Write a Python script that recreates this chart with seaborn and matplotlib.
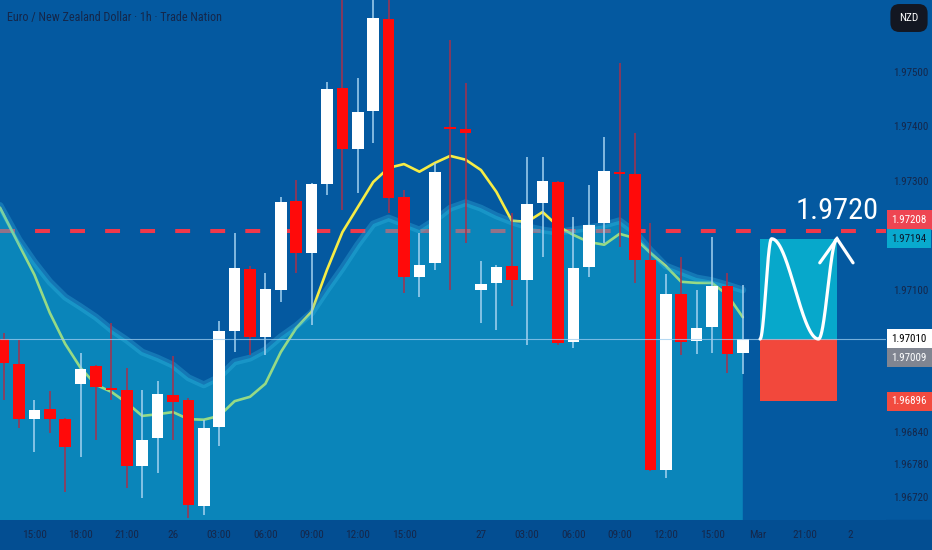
import numpy as np
import pandas as pd
import matplotlib
matplotlib.use("Agg")
import matplotlib.pyplot as plt
from matplotlib import font_manager
import seaborn as sns

# EUR/NZD 1h candles
opens = [1.97010, 1.96964, 1.96863, 1.96882, 1.96863, 1.96928, 1.96961, 1.96920, 1.96917, 1.96777,
         1.96828, 1.96907, 1.96898, 1.96704, 1.96849, 1.97025, 1.97139, 1.97014, 1.97100, 1.97263,
         1.97168, 1.97295, 1.97471, 1.97359, 1.97428, 1.97597, 1.97271, 1.97124, 1.97150, 1.97399,
         1.97395, 1.97100, 1.97113, 1.97144, 1.97118, 1.97260, 1.97298, 1.97005, 1.97142, 1.97223,
         1.97317, 1.97313, 1.97155, 1.96770, 1.97093, 1.97006, 1.97032, 1.97107, 1.96984]
highs = [1.97021, 1.97008, 1.96898, 1.96915, 1.96865, 1.96984, 1.96962, 1.97039, 1.96957, 1.96917,
         1.96933, 1.96979, 1.96902, 1.96862, 1.97043, 1.97205, 1.97144, 1.97131, 1.97271, 1.97302,
         1.97296, 1.97482, 1.97641, 1.97489, 1.97641, 1.97641, 1.97284, 1.97205, 1.97333, 1.97559,
         1.97480, 1.97153, 1.97146, 1.97241, 1.97344, 1.97344, 1.97300, 1.97234, 1.97293, 1.97381,
         1.97517, 1.97388, 1.97223, 1.97129, 1.97161, 1.97100, 1.97197, 1.97131, 1.97109]
lows = [1.96898, 1.96847, 1.96803, 1.96838, 1.96729, 1.96794, 1.96825, 1.96898, 1.96737, 1.96718,
        1.96764, 1.96825, 1.96682, 1.96687, 1.96814, 1.96986, 1.96981, 1.96981, 1.97078, 1.97131,
        1.97036, 1.97274, 1.97247, 1.97278, 1.97370, 1.97241, 1.97094, 1.97087, 1.97137, 1.97100,
        1.97186, 1.97039, 1.97027, 1.97071, 1.96999, 1.97161, 1.96999, 1.96994, 1.97124, 1.97186,
        1.97179, 1.97113, 1.96768, 1.96755, 1.96981, 1.96983, 1.96984, 1.96948, 1.96946]
closes = [1.96966, 1.96863, 1.96880, 1.96863, 1.96812, 1.96955, 1.96922, 1.96917, 1.96777, 1.96825,
          1.96909, 1.96894, 1.96705, 1.96847, 1.97025, 1.97140, 1.97014, 1.97102, 1.97261, 1.97168,
          1.97295, 1.97469, 1.97359, 1.97427, 1.97599, 1.97269, 1.97124, 1.97146, 1.97317, 1.97395,
          1.97388, 1.97111, 1.97142, 1.97118, 1.97258, 1.97300, 1.97003, 1.97140, 1.97219, 1.97318,
          1.97313, 1.97155, 1.96770, 1.97093, 1.97005, 1.97030, 1.97107, 1.96983, 1.97010]

# moving average line and the shaded band under it
ema = [1.97238, 1.97183, 1.97128, 1.97058, 1.97001, 1.96957, 1.96926, 1.96913, 1.96893, 1.96869,
       1.96872, 1.96876, 1.96863, 1.96862, 1.96869, 1.96896, 1.96904, 1.96928, 1.96986, 1.97030,
       1.97060, 1.97137, 1.97206, 1.97252, 1.97298, 1.97324, 1.97331, 1.97317, 1.97333, 1.97346,
       1.97339, 1.97320, 1.97280, 1.97227, 1.97225, 1.97243, 1.97217, 1.97201, 1.97188, 1.97183,
       1.97203, 1.97195, 1.97168, 1.97144, 1.97115, 1.97113, 1.97113, 1.97091, 1.97050]
cloud = [1.97243, 1.97192, 1.97151, 1.97115, 1.97087, 1.97069, 1.97050, 1.97027, 1.97008, 1.96986,
         1.96975, 1.96962, 1.96939, 1.96926, 1.96940, 1.96968, 1.96975, 1.96990, 1.97014, 1.97034,
         1.97058, 1.97100, 1.97140, 1.97183, 1.97221, 1.97232, 1.97221, 1.97210, 1.97228, 1.97250,
         1.97260, 1.97250, 1.97236, 1.97225, 1.97216, 1.97210, 1.97206, 1.97210, 1.97214, 1.97219,
         1.97227, 1.97206, 1.97173, 1.97144, 1.97133, 1.97122, 1.97117, 1.97109, 1.97100]

xtick_pos = [2, 5, 8, 11, 14, 17, 20, 23, 26, 31, 34, 37, 40, 43, 46, 49, 52, 55]
xtick_labels = ["15:00", "18:00", "21:00", "26", "03:00", "06:00", "09:00", "12:00", "15:00",
                "27", "03:00", "06:00", "09:00", "12:00", "15:00", "Mar", "21:00", "2"]
ytick_vals = [1.97500, 1.97400, 1.97300, 1.97100, 1.96840, 1.96780, 1.96720]

level = 1.97208
target, entry, stop = 1.97194, 1.97010, 1.96896
target_text = "1.9720"
badge_texts = ["1.97208", "1.97194", "1.97010", "1.97009", "1.96896"]
badge_prices = [1.97208, 1.97194, 1.97010, 1.97009, 1.96896]

BG = "#0459A0"
STRIP = "#034E92"
TXT = "#15274a"

sns.set_theme(style="dark")

# the screenshot text is narrow; take the narrowest family we have and scale sizes
installed = {f.name for f in font_manager.fontManager.ttflist}
font_scale = {"Liberation Sans Narrow": 1.0, "Roboto Condensed": 0.95, "Open Sans Condensed": 0.95,
              "Liberation Sans": 0.84, "DejaVu Sans": 0.76}
family = next(f for f in font_scale if f in installed or f == "DejaVu Sans")
k = font_scale[family]
plt.rcParams["font.family"] = [family, "DejaVu Sans"]

fig = plt.figure(figsize=(9.32, 5.5), dpi=100, facecolor=BG)
fig.patches.append(plt.Rectangle((0, 0), 1, 30 / 550, transform=fig.transFigure,
                                 color=STRIP, zorder=-5))
ax = fig.add_axes([0, 30 / 550, 886 / 932, 520 / 550])
ax.set_facecolor(BG)

df = pd.DataFrame({"o": opens, "h": highs, "l": lows, "c": closes})
df["i"] = np.arange(len(df))
up = df.c >= df.o
x_left, x_right = -0.234, 57.3

# red dashed level, behind everything
ax.axhline(level, color="#F0384A", lw=2.9, ls=(0, (3.7, 5.0)), zorder=1)

# moving average (extended to the left edge)
ex = np.r_[x_left, df.i]
ey = np.r_[ema[0] + (ema[0] - ema[1]) * abs(x_left), ema]
sns.lineplot(x=ex, y=ey, ax=ax, color="#F6EC45", lw=1.9, zorder=2, sort=False)

# translucent band drawn over the line (turns it green)
cy = np.r_[cloud[0] + (cloud[0] - cloud[1]) * abs(x_left), cloud]
ax.fill_between(ex, cy, 1.960, color="#13C3E0", alpha=0.42, lw=0, zorder=3)
ax.plot(ex, cy, color="#3BBDE6", lw=5, alpha=0.3, zorder=3.2)

# candles
ax.vlines(df.i, df.l, df.h, colors=np.where(up, "#a4d2f0", "#a8304a"), lw=1.1, zorder=4)
ax.bar(df.i, np.maximum((df.c - df.o).abs(), 0.00003), bottom=np.minimum(df.o, df.c),
       width=0.75, color=np.where(up, "white", "#FF0A0A"), lw=0, zorder=5)

# last price line
ax.axhline(entry, color="#9ccdf0", lw=0.8, alpha=0.75, zorder=6)

# long position drawing
bx0, bx1 = 49.12, 54.12
ax.fill_between([bx0, bx1], entry, target, color="#07A8CB", lw=0, zorder=5)
ax.fill_between([bx0, bx1], stop, entry, color="#F2483C", lw=0, zorder=5)
t = np.linspace(0, 1, 300)
sx = bx0 + (bx1 - bx0) * np.interp(t, [0, 1 / 3, 2 / 3, 1], [0, 0.15, 0.76, 1])
sy = entry + (target - entry) * (1 - np.cos(3 * np.pi * t)) / 2
ax.plot(sx, sy, color="white", lw=2.3, zorder=7, solid_capstyle="round")
arm = (target - entry) * 0.24
ax.plot([bx1 - 1.12, bx1, bx1 + 1.04], [target - arm, target, target - arm],
        color="white", lw=2.3, zorder=7, solid_capstyle="round", solid_joinstyle="miter")
ax.text(56.8, 1.97230, target_text, ha="right", va="baseline", color="white",
        fontsize=23 * k, zorder=8)

ax.set_xlim(x_left, x_right)
ax.set_ylim(1.96678, 1.97632)
for s in ax.spines.values():
    s.set_visible(False)
ax.grid(False)
ax.set_xlabel("")
ax.set_ylabel("")

ax.yaxis.tick_right()
ax.set_yticks(ytick_vals, labels=[f"{v:.5f}" for v in ytick_vals])
ax.tick_params(axis="y", length=0, pad=5, labelsize=8.3 * k, labelcolor=TXT)
ax.set_xticks(xtick_pos, labels=xtick_labels)
ax.tick_params(axis="x", length=0, pad=7, labelsize=8.5 * k, labelcolor=TXT)

# price badges on the right scale
badge_style = [("#EE4552", "white", 8), ("#09A9CE", "#0b1a2e", 0),
               ("white", "black", 0), ("#808591", "white", -13), ("#F24B3F", "white", 0)]
for txt, p, (fc, tc, dy) in zip(badge_texts, badge_prices, badge_style):
    ax.annotate(txt, xy=(1, p), xycoords=("axes fraction", "data"), xytext=(4, dy),
                textcoords="offset points", ha="left", va="center", fontsize=8.3 * k, color=tc,
                annotation_clip=False, zorder=10,
                bbox=dict(boxstyle="square,pad=0.42", fc=fc, ec="none"))

fig.text(7 / 932, 1 - 17 / 550, "Euro / New Zealand Dollar · 1h · Trade Nation",
         ha="left", va="center", fontsize=9.2 * k, color=TXT)
fig.text(909 / 932, 1 - 18 / 550, "NZD", ha="center", va="center", fontsize=8.5 * k,
         color="white", bbox=dict(boxstyle="round,pad=0.8", fc="#131722", ec="none"))

fig.savefig("out.png", dpi=100, facecolor=BG)
